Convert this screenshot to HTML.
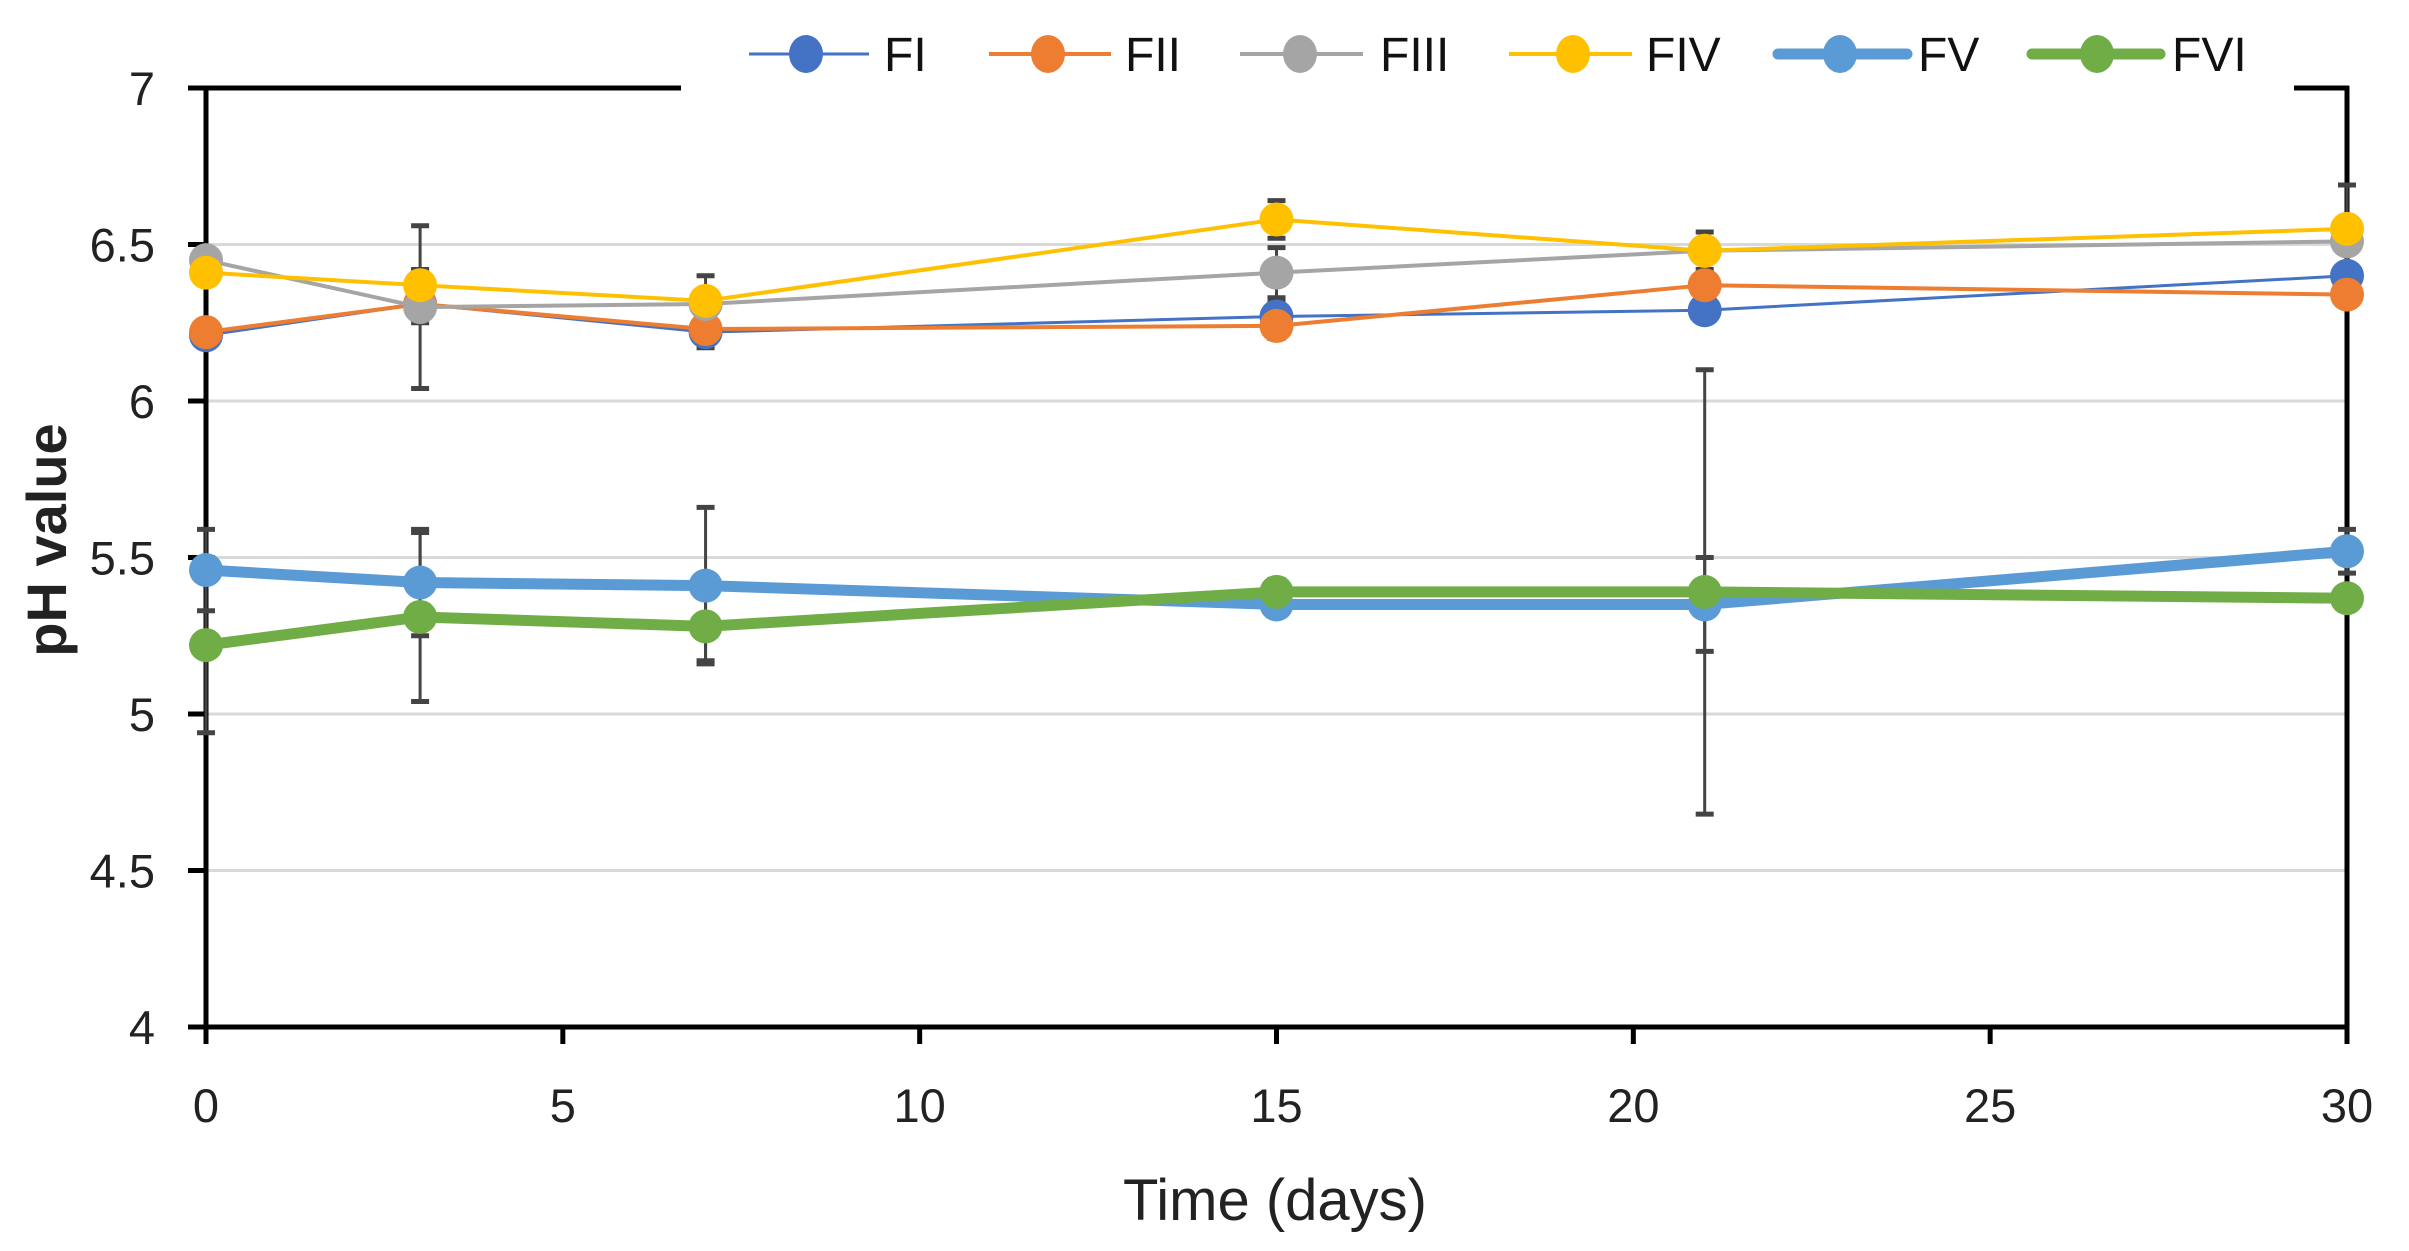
<!DOCTYPE html>
<html><head><meta charset="utf-8"><style>
html,body{margin:0;padding:0;background:#fff;}
svg{display:block;font-family:"Liberation Sans",sans-serif;}
</style></head><body>
<svg id="chart" width="2409" height="1251" viewBox="0 0 2409 1251" xmlns="http://www.w3.org/2000/svg"></svg>
<script>
const days = [0, 3, 7, 15, 21, 30];
const seriesNames = ["FI", "FII", "FIII", "FIV", "FV", "FVI"];
const fI   = [6.21, 6.31, 6.22, 6.27, 6.29, 6.40];
const fII  = [6.22, 6.31, 6.23, 6.24, 6.37, 6.34];
const fIII = [6.45, 6.30, 6.31, 6.41, 6.48, 6.51];
const fIV  = [6.41, 6.37, 6.32, 6.58, 6.48, 6.55];
const fV   = [5.46, 5.42, 5.41, 5.35, 5.35, 5.52];
const fVI  = [5.22, 5.31, 5.28, 5.39, 5.39, 5.37];
const errI   = [0.02, 0.06, 0.03, 0.05, 0.03, 0.02];
const errII  = [0.02, 0.03, 0.06, 0.04, 0.03, 0.02];
const errIII = [0.03, 0.26, 0.03, 0.08, 0.03, 0.03];
const errIV  = [0.03, 0.05, 0.08, 0.06, 0.06, 0.14];
const errV   = [0.13, 0.17, 0.25, 0.03, 0.15, 0.07];
const errVI  = [0.28, 0.27, 0.11, 0.04, 0.71, 0.02];
const yTicks = [4, 4.5, 5, 5.5, 6, 6.5, 7];
const xTicks = [0, 5, 10, 15, 20, 25, 30];

const svg = document.getElementById('chart');
const NS = 'http://www.w3.org/2000/svg';
const X0 = 206, X1 = 2347, Y0 = 1027, Y1 = 88;
const xs = v => X0 + (v - 0) / 30 * (X1 - X0);
const ys = v => Y0 - (v - 4) / 3 * (Y0 - Y1);
function mk(tag, attrs, parent) {
  const e = document.createElementNS(NS, tag);
  for (const k in attrs) e.setAttribute(k, attrs[k]);
  (parent || svg).appendChild(e);
  return e;
}
yTicks.forEach(t => {
  if (t === 4 || t === 7) return;
  const g = mk('line', {x1: X0, x2: X1, y1: ys(t), y2: ys(t), stroke: '#d9d9d9', 'stroke-width': 3});
  
  
});
const ax = mk('g', {stroke: '#000', 'stroke-width': 5, fill: 'none'});


mk('line', {x1: X0, x2: X0, y1: Y1 - 2, y2: Y0 + 2}, ax);
mk('line', {x1: X0 - 18, x2: X1 + 2, y1: Y0, y2: Y0}, ax);
mk('line', {x1: X1, x2: X1, y1: Y1 - 2, y2: Y0 + 17}, ax);
mk('line', {x1: X0 - 18, x2: 681, y1: Y1, y2: Y1}, ax);
mk('line', {x1: 2294, x2: X1 + 2, y1: Y1, y2: Y1}, ax);
yTicks.forEach(t => {
  mk('line', {x1: X0 - 18, x2: X0, y1: ys(t), y2: ys(t)}, ax);
  const l = mk('text', {x: 155, y: ys(t) + 17, 'text-anchor': 'end', 'font-size': 47, fill: '#222'});
  l.textContent = t;
  
  
});
xTicks.forEach(t => {
  mk('line', {x1: xs(t), x2: xs(t), y1: Y0, y2: Y0 + 17}, ax);
  const l = mk('text', {x: xs(t), y: 1122, 'text-anchor': 'middle', 'font-size': 47, fill: '#222'});
  l.textContent = t;
  
  
});
const xt = mk('text', {x: 1275, y: 1220, 'text-anchor': 'middle', 'font-size': 58, fill: '#222'});
xt.textContent = 'Time (days)';


const yt = mk('text', {x: 0, y: 0, 'text-anchor': 'middle', 'font-size': 56, 'font-weight': 'bold', fill: '#222', transform: 'translate(66,540) rotate(-90)'});
yt.textContent = 'pH value';



const vals = [fI, fII, fIII, fIV, fV, fVI];
const errs = [errI, errII, errIII, errIV, errV, errVI];
const colors = ['#4472C4', '#ED7D31', '#A5A5A5', '#FFC000', '#5B9BD5', '#70AD47'];
const widths = [3, 4, 4, 4, 11, 11];
vals.forEach((s, i) => {
  const g = mk('g', {stroke: '#444', 'stroke-width': 3});
  
  
  s.forEach((v, j) => {
    const x = xs(days[j]), a = ys(v + errs[i][j]), b = ys(v - errs[i][j]);
    mk('line', {x1: x, x2: x, y1: a, y2: b}, g);
    mk('line', {x1: x - 9, x2: x + 9, y1: a, y2: a, 'stroke-width': 5}, g);
    mk('line', {x1: x - 9, x2: x + 9, y1: b, y2: b, 'stroke-width': 5}, g);
  });
});
vals.forEach((s, i) => {
  const g = mk('g', {});
  
  
  mk('polyline', {points: s.map((v, j) => xs(days[j]) + ',' + ys(v)).join(' '), fill: 'none', stroke: colors[i], 'stroke-width': widths[i], 'stroke-linejoin': 'round'}, g);
  s.forEach((v, j) => {
    const c = mk('circle', {cx: xs(days[j]), cy: ys(v), r: 17, fill: colors[i]}, g);
    
    
  });
});
const legX = [[749, 869, 806, 884], [989, 1111, 1048, 1125], [1240, 1363, 1300, 1380], [1509, 1632, 1573, 1646], [1778, 1907, 1840, 1918], [2032, 2160, 2097, 2172]];
const lg = mk('g', {});


seriesNames.forEach((n, i) => {
  const e = mk('g', {}, lg);
  
  
  const p = legX[i];
  mk('line', {x1: p[0], x2: p[1], y1: 54, y2: 54, stroke: colors[i], 'stroke-width': widths[i], 'stroke-linecap': i > 3 ? 'round' : 'butt'}, e);
  mk('ellipse', {cx: p[2], cy: 54, rx: 17, ry: 19, fill: colors[i]}, e);
  const t = mk('text', {x: p[3], y: 71, 'font-size': 48, fill: '#111'}, e);
  t.textContent = n;
});
</script>
</body></html>
